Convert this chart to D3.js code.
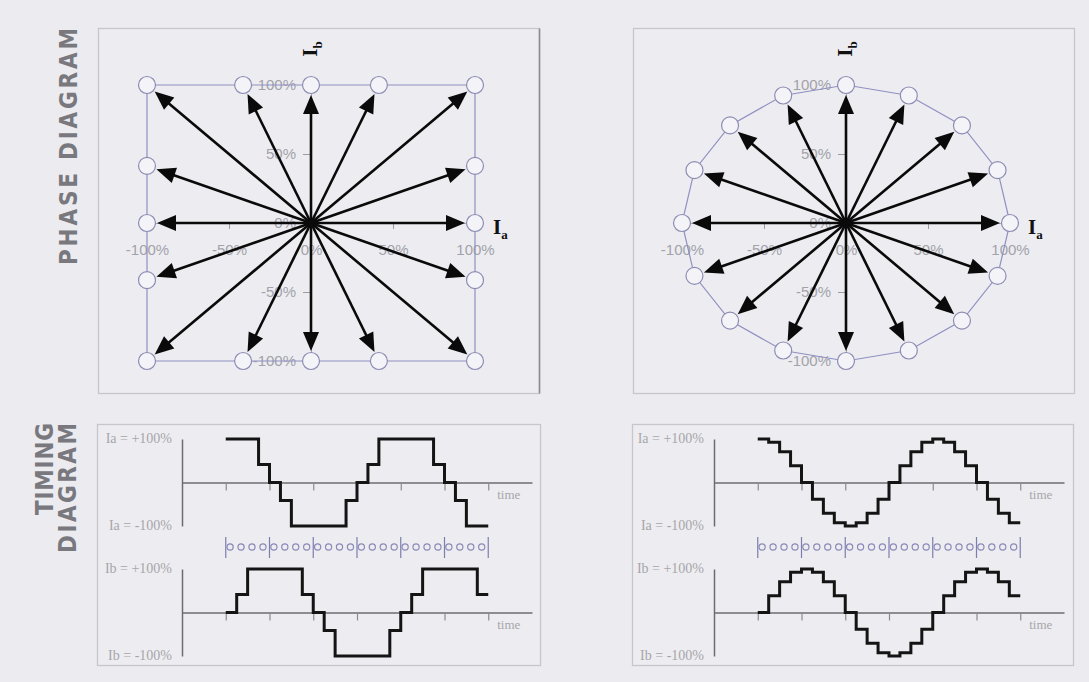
<!DOCTYPE html>
<html><head><meta charset="utf-8">
<script src="https://cdn.jsdelivr.net/npm/d3@7"></script>
<style>html,body{margin:0;padding:0;background:#ececf0;} svg{display:block}</style>
</head><body>
<svg id="chart" width="1089" height="682"></svg>
<script>
// ---------- DATA ----------
const phaseTickValues = [-1, -0.5, 0, 0.5, 1];
const phaseTickLabels = ["-100%", "-50%", "0%", "50%", "100%"];
// 16 full/half-step positions (square) : Ia, Ib
const squareIa = [1, 1, 1, 0.414, 0, -0.414, -1, -1, -1, -1, -1, -0.414, 0, 0.414, 1, 1];
const squareIb = [0, 0.414, 1, 1, 1, 1, 1, 0.414, 0, -0.414, -1, -1, -1, -1, -1, -0.414];
// 16 micro-step positions (circle) : Ia, Ib
const circleIa = [1, 0.924, 0.707, 0.383, 0, -0.383, -0.707, -0.924, -1, -0.924, -0.707, -0.383, 0, 0.383, 0.707, 0.924];
const circleIb = [0, 0.383, 0.707, 0.924, 1, 0.924, 0.707, 0.383, 0, -0.383, -0.707, -0.924, -1, -0.924, -0.707, -0.383];
// timing diagrams: 24 steps
const timeTicks = [0, 4, 8, 12, 16, 20, 24];
const stepIndex = [0,1,2,3,4,5,6,7,8,9,10,11,12,13,14,15,16,17,18,19,20,21,22,23];
const timingSquareIa = [1, 1, 1, 0.414, 0, -0.414, -1, -1, -1, -1, -1, -0.414, 0, 0.414, 1, 1, 1, 1, 1, 0.414, 0, -0.414, -1, -1];
const timingSquareIb = [0, 0.414, 1, 1, 1, 1, 1, 0.414, 0, -0.414, -1, -1, -1, -1, -1, -0.414, 0, 0.414, 1, 1, 1, 1, 1, 0.414];
const timingCircleIa = [1, 0.924, 0.707, 0.383, 0, -0.383, -0.707, -0.924, -1, -0.924, -0.707, -0.383, 0, 0.383, 0.707, 0.924, 1, 0.924, 0.707, 0.383, 0, -0.383, -0.707, -0.924];
const timingCircleIb = [0, 0.383, 0.707, 0.924, 1, 0.924, 0.707, 0.383, 0, -0.383, -0.707, -0.924, -1, -0.924, -0.707, -0.383, 0, 0.383, 0.707, 0.924, 1, 0.924, 0.707, 0.383];
const timingLabelsA = ["Ia = +100%", "Ia = -100%"];
const timingLabelsB = ["Ib = +100%", "Ib = -100%"];
const timeLabel = "time";
const sideTitles = ["PHASE DIAGRAM", "TIMING", "DIAGRAM"];

// ---------- DRAWING ----------
const svg = d3.select("#chart");
svg.append("rect").attr("width", 1089).attr("height", 682).attr("fill", "#ececf0");

const OFF = 535;  // horizontal shift of the right-hand column

function frame(x, y, w, h, darkRight) {
  svg.append("rect").attr("x", x).attr("y", y).attr("width", w).attr("height", h)
    .attr("fill", "#ededf1").attr("stroke", "#c6c6cb").attr("stroke-width", 1.3);
  if (darkRight) svg.append("line").attr("x1", x + w).attr("x2", x + w).attr("y1", y).attr("y2", y + h)
    .attr("stroke", "#8e8e92").attr("stroke-width", 1.6);
}
frame(98.5, 28.5, 441, 365, true);
frame(98.5 + OFF, 28.5, 441, 365, false);
frame(97.5, 424.5, 443, 241, false);
frame(97.5 + OFF, 424.5, 441, 241, false);

// side titles
const titleFont = "'DejaVu Sans Condensed','Liberation Sans Narrow','Liberation Sans',sans-serif";
function sideTitle(tx, ty, anchor, len, str) {
  svg.append("text").attr("transform", `translate(${tx},${ty}) rotate(-90)`)
    .attr("text-anchor", anchor).attr("dominant-baseline", "central")
    .attr("textLength", len).attr("lengthAdjust", "spacing")
    .attr("font-family", titleFont).attr("font-weight", "bold").attr("font-size", 24)
    .attr("font-stretch", "condensed")
    .attr("fill", "#78787e").text(str);
}
sideTitle(69, 146.5, "middle", 237, sideTitles[0]);
sideTitle(45, 423, "end", 92, sideTitles[1]);
sideTitle(68, 423, "end", 130, sideTitles[2]);

function drawPhase(off, ia, ib) {
  const cx = 311 + off, cy = 223;
  const x = d3.scaleLinear().domain([-1, 1]).range([cx - 164, cx + 164]);
  const y = d3.scaleLinear().domain([-1, 1]).range([cy + 138, cy - 138]);
  const g = svg.append("g");

  const gx = g.append("g").attr("transform", `translate(0,${y(0)})`)
    .call(d3.axisBottom(x).tickValues(phaseTickValues).tickFormat((d, i) => phaseTickLabels[i])
      .tickSize(6).tickSizeOuter(0).tickPadding(15));
  const gy = g.append("g").attr("transform", `translate(${x(0)},0)`)
    .call(d3.axisLeft(y).tickValues(phaseTickValues).tickFormat((d, i) => phaseTickLabels[i])
      .tickSize(8).tickSizeOuter(0).tickPadding(7));
  [gx, gy].forEach(a => {
    a.attr("font-family", "'Liberation Sans',Arial,sans-serif").attr("font-size", 15);
    a.selectAll("path.domain").attr("stroke", "#a8a8b0");
    a.selectAll(".tick line").attr("stroke", "#9c9ca4");
    a.selectAll(".tick text").attr("fill", "#a2a2aa");
  });

  const pts = ia.map((v, i) => [x(v), y(ib[i])]);
  g.append("path").attr("d", d3.line().curve(d3.curveLinearClosed)(pts))
    .attr("fill", "none").attr("stroke", "#8f8fc2").attr("stroke-width", 1.2);

  const r = 8.5, headL = 19, headW = 8;
  pts.forEach(p => {
    const dx = p[0] - cx, dy = p[1] - cy, len = Math.hypot(dx, dy);
    const ux = dx / len, uy = dy / len;
    const tx = p[0] - ux * (r + 1.5), ty = p[1] - uy * (r + 1.5);
    const bx = tx - ux * headL, by = ty - uy * headL;
    g.append("line").attr("x1", cx).attr("y1", cy).attr("x2", bx + ux * 2).attr("y2", by + uy * 2)
      .attr("stroke", "#0a0a0a").attr("stroke-width", 2.6);
    g.append("path").attr("d", `M${tx},${ty}L${bx - uy * headW},${by + ux * headW}L${bx + uy * headW},${by - ux * headW}Z`)
      .attr("fill", "#0a0a0a");
  });
  g.append("circle").attr("cx", cx).attr("cy", cy).attr("r", 3.5).attr("fill", "#0a0a0a");

  g.selectAll("circle.pos").data(pts).enter().append("circle").attr("class", "pos")
    .attr("cx", d => d[0]).attr("cy", d => d[1]).attr("r", r)
    .attr("fill", "#f3f3f8").attr("stroke", "#8c8cb4").attr("stroke-width", 1.2);

  const ta = g.append("text").attr("x", x(1) + 18).attr("y", cy + 11)
    .attr("font-family", "'Liberation Serif','Times New Roman',serif").attr("font-weight", "bold")
    .attr("font-size", 21).attr("fill", "#111");
  ta.append("tspan").text("I");
  ta.append("tspan").attr("dy", 5).attr("font-size", 13).text("a");
  const tb = g.append("text").attr("transform", `translate(${cx + 6},49) rotate(-90)`)
    .attr("text-anchor", "middle")
    .attr("font-family", "'Liberation Serif','Times New Roman',serif").attr("font-weight", "bold")
    .attr("font-size", 21).attr("fill", "#111");
  tb.append("tspan").text("I");
  tb.append("tspan").attr("dy", 5).attr("font-size", 13).text("b");
}

function drawTiming(off, iaVals, ibVals) {
  const t = d3.scaleLinear().domain([-4, 28]).range([182 + off, 532 + off]);
  const yA = d3.scaleLinear().domain([-1, 1]).range([526, 439]);
  const yB = d3.scaleLinear().domain([-1, 1]).range([656, 569]);
  const g = svg.append("g");
  const lblFont = "'Liberation Serif','Times New Roman',serif";

  [[yA, iaVals, timingLabelsA], [yB, ibVals, timingLabelsB]].forEach(([ys, vals, labels]) => {
    const ax = g.append("g").attr("transform", `translate(0,${ys(0)})`)
      .call(d3.axisBottom(t).tickValues(timeTicks).tickFormat("").tickSize(8).tickSizeOuter(0));
    ax.selectAll("path.domain").attr("stroke", "#6c6c70").attr("stroke-width", 1.5);
    ax.selectAll(".tick line").attr("stroke", "#8a8a90").attr("stroke-width", 1.2);
    const ay = g.append("g").attr("transform", `translate(${t(-4)},0)`)
      .call(d3.axisLeft(ys).tickValues([]).tickSizeOuter(0));
    ay.selectAll("path.domain").attr("stroke", "#6c6c70").attr("stroke-width", 1.5);
    g.append("text").attr("x", t(-4) - 10).attr("y", ys(1) + 4).attr("text-anchor", "end")
      .attr("font-family", lblFont).attr("font-size", 14).attr("fill", "#a6a6aa").text(labels[0]);
    g.append("text").attr("x", t(-4) - 10).attr("y", ys(-1) + 4).attr("text-anchor", "end")
      .attr("font-family", lblFont).attr("font-size", 14).attr("fill", "#a6a6aa").text(labels[1]);
    g.append("text").attr("x", t(24) + 9).attr("y", ys(0) + 16)
      .attr("font-family", lblFont).attr("font-size", 13).attr("fill", "#a6a6aa").text(timeLabel);
    const pts = stepIndex.map((k, i) => [k, vals[i]]);
    pts.push([stepIndex[stepIndex.length - 1] + 1, vals[vals.length - 1]]);
    g.append("path")
      .attr("d", d3.line().x(d => t(d[0])).y(d => ys(d[1])).curve(d3.curveStepAfter)(pts))
      .attr("fill", "none").attr("stroke", "#141414").attr("stroke-width", 3)
      .attr("stroke-linejoin", "miter");
  });

  const rowY = 547;
  g.selectAll("line.bar").data(timeTicks).enter().append("line").attr("class", "bar")
    .attr("x1", d => t(d)).attr("x2", d => t(d)).attr("y1", rowY - 10).attr("y2", rowY + 11)
    .attr("stroke", "#7c7cae").attr("stroke-width", 1.2);
  g.selectAll("circle.step").data(stepIndex).enter().append("circle").attr("class", "step")
    .attr("cx", d => t(d + 0.4)).attr("cy", rowY).attr("r", 3.1)
    .attr("fill", "none").attr("stroke", "#8a8ab8").attr("stroke-width", 1.2);
}

drawPhase(0, squareIa, squareIb);
drawPhase(OFF, circleIa, circleIb);
drawTiming(0, timingSquareIa, timingSquareIb);
drawTiming(OFF - 3, timingCircleIa, timingCircleIb);
</script>
</body></html>
